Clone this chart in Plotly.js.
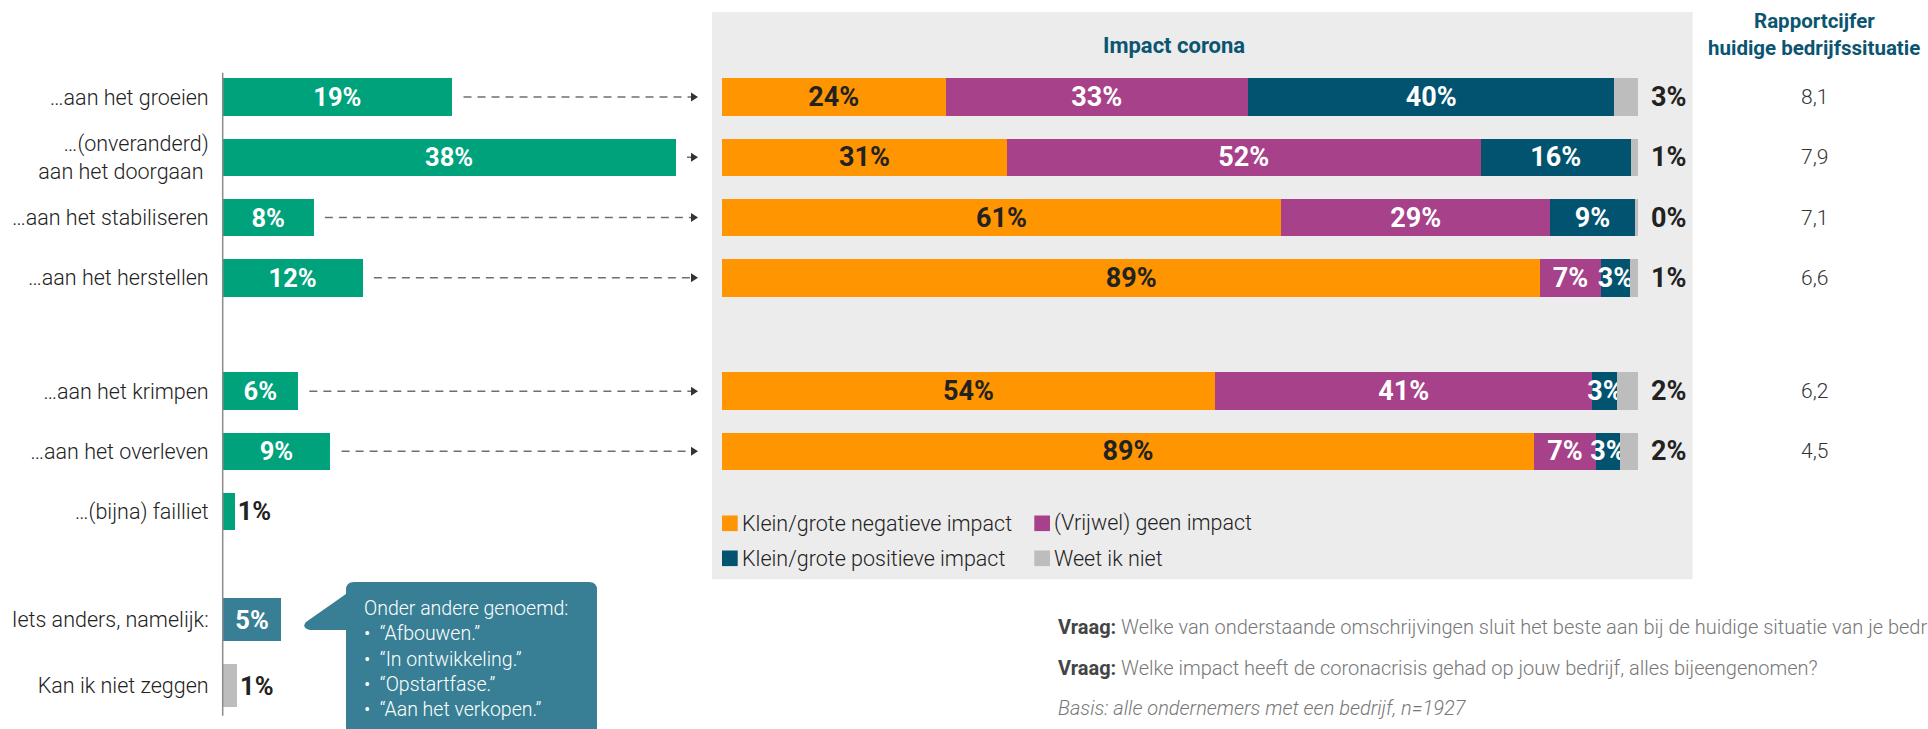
<!DOCTYPE html>
<html>
<head>
<meta charset="utf-8">
<script src="https://cdn.plot.ly/plotly-3.0.1.min.js"></script>
<style>
html,body{margin:0;padding:0;background:#fff;}
#chart{width:1928px;height:729px;}
</style>
</head>
<body>
<div id="chart"></div>
<script>
// ---------- DATA ----------
const situatieGroepA = ['…aan het groeien', '…(onveranderd)<br>aan het doorgaan\u00a0', '…aan het stabiliseren', '…aan het herstellen'];
const situatieGroepB = ['…aan het krimpen', '…aan het overleven', '…(bijna) failliet'];
const situatieGroepC = ['Iets anders, namelijk:', 'Kan ik niet zeggen'];
const aandeelGroepA = [19.2, 37.9, 7.6, 11.7];
const aandeelGroepB = [6.3, 9.0, 1.0];
const aandeelGroepC = [4.9, 1.2];

// impact corona (rows: groeien, doorgaan, stabiliseren, herstellen, krimpen, overleven)
const impactReeksen = ['Klein/grote negatieve impact', '(Vrijwel) geen impact', 'Klein/grote positieve impact', 'Weet ik niet'];
const impactNegatief = [24.4, 31.1, 61.0, 89.3, 53.8, 88.6];
const impactGeen     = [33.0, 51.7, 29.4, 6.6, 41.2, 6.8];
const impactPositief = [40.0, 16.4, 9.2, 3.2, 2.7, 2.6];
const impactWeetNiet = [2.6, 0.8, 0.4, 0.9, 2.3, 2.0];

const rapportcijfer = ['8,1', '7,9', '7,1', '6,6', '6,2', '4,5'];

const andereGenoemd = ['“Afbouwen.”', '“In ontwikkeling.”', '“Opstartfase.”', '“Aan het verkopen.”'];

// ---------- LAYOUT HELPERS ----------
const W = 1928, H = 729;
const px = v => v / W;
const py = v => 1 - v / H;
const grp = {
  A: {top: 66.9, bot: 307.9, n: 4},
  B: {top: 361.2, bot: 541.3, n: 3},
  C: {top: 586.5, bot: 718.5, n: 2}
};
const rowPx = (g, i) => g.top + (i + 0.5) * (g.bot - g.top) / g.n;

const GREEN = '#00a27b', OTHER = '#387f95', GREY = '#bdbdbd';
const serieKleuren = ['#ff9500', '#a6418a', '#02536f', '#bdbdbd'];
const serieTekst = ['#222222', '#ffffff', '#ffffff', '#ffffff'];
const DARK = '#222222';
const FONT = 'Roboto, sans-serif';

// left x axis: 0..40 over 222.7..700.7 px
const LX0 = 222.7, LX1 = 700.7, LRANGE = 40;
const unitPx = (LX1 - LX0) / LRANGE;

const traces = [];

function leftTrace(cats, vals, colors, yax, w) {
  return {
    type: 'bar', orientation: 'h', x: vals, y: cats, xaxis: 'x', yaxis: yax,
    width: w,
    marker: {color: colors, line: {width: 0}},
    texttemplate: '%{x:.0f}%',
    textposition: vals.map(v => v < 3 ? 'outside' : 'inside'),
    insidetextanchor: 'middle', textangle: 0, constraintext: 'none', cliponaxis: false,
    insidetextfont: {family: FONT, size: 25.5, color: '#ffffff', weight: 700},
    outsidetextfont: {family: FONT, size: 25.5, color: DARK, weight: 700},
    hoverinfo: 'skip', showlegend: false
  };
}
traces.push(leftTrace(situatieGroepA, aandeelGroepA, GREEN, 'y', 0.622));
traces.push(leftTrace(situatieGroepB, aandeelGroepB, GREEN, 'y2', 0.624));
traces.push(leftTrace(situatieGroepC, aandeelGroepC, [OTHER, GREY], 'y3', 0.642));

const impactSeries = [impactNegatief, impactGeen, impactPositief, impactWeetNiet];
impactSeries.forEach((vals, s) => {
  const parts = [
    {cats: situatieGroepA, v: vals.slice(0, 4), y: 'y', w: 0.622},
    {cats: situatieGroepB.slice(0, 2), v: vals.slice(4, 6), y: 'y2', w: 0.624}
  ];
  parts.forEach(p => {
    traces.push({
      type: 'bar', orientation: 'h', x: p.v, y: p.cats, xaxis: 'x2', yaxis: p.y,
      width: p.w, name: impactReeksen[s],
      marker: {color: serieKleuren[s], line: {width: 0}},
      texttemplate: '%{x:.0f}%',
      textposition: s === 3 ? 'none' : 'inside',
      insidetextanchor: 'middle', textangle: 0, constraintext: 'none', cliponaxis: false,
      insidetextfont: {family: FONT, size: 27, color: serieTekst[s], weight: 700},
      hoverinfo: 'skip', showlegend: false
    });
  });
});

// ---------- SHAPES ----------
const shapes = [];
// grey panel
shapes.push({type: 'rect', xref: 'paper', yref: 'paper', layer: 'below',
  x0: px(712), x1: px(1692.7), y0: py(579.3), y1: py(12),
  fillcolor: '#ececec', line: {width: 0}});
// left axis line
shapes.push({type: 'line', xref: 'paper', yref: 'paper',
  x0: px(LX0), x1: px(LX0), y0: py(72.7), y1: py(715.7),
  line: {color: '#8c8c8c', width: 1.5}});

// dashed arrows for rows continuing into impact chart
const arrowRows = [];
aandeelGroepA.forEach((v, i) => arrowRows.push({v, yc: rowPx(grp.A, i)}));
aandeelGroepB.slice(0, 2).forEach((v, i) => arrowRows.push({v, yc: rowPx(grp.B, i)}));
const tipX = (698 - LX0) / unitPx, baseX = (691 - LX0) / unitPx;
arrowRows.forEach(r => {
  shapes.push({type: 'line', xref: 'x', yref: 'paper',
    x0: r.v + 0.95, x1: baseX, y0: py(r.yc), y1: py(r.yc),
    line: {color: '#6f6f6f', width: 1.6, dash: '8px,6px'}});
  shapes.push({type: 'path', xref: 'x', yref: 'paper',
    path: `M ${baseX},${py(r.yc - 4.5)} L ${tipX},${py(r.yc)} L ${baseX},${py(r.yc + 4.5)} Z`,
    fillcolor: '#333333', line: {width: 0}});
});

// callout box
const P = (x, y) => `${px(x)},${py(y)}`;
shapes.push({type: 'path', xref: 'paper', yref: 'paper',
  path: `M ${P(346, 745)} L ${P(346, 630)} L ${P(310, 630)} Q ${P(301, 628)} ${P(306, 622)} L ${P(346, 594)} L ${P(346, 590)} Q ${P(346, 582)} ${P(354, 582)} L ${P(589, 582)} Q ${P(597, 582)} ${P(597, 590)} L ${P(597, 745)} Z`,
  fillcolor: OTHER, line: {width: 0}});

// legend squares
const legCol = [722, 1034.3], legRow = [523.3, 558.3];
impactReeksen.forEach((n, i) => {
  const cx = legCol[i % 2], cy = legRow[Math.floor(i / 2)];
  shapes.push({type: 'rect', xref: 'paper', yref: 'paper',
    x0: px(cx), x1: px(cx + 15.7), y0: py(cy + 7.8), y1: py(cy - 7.8),
    fillcolor: serieKleuren[i], line: {width: 0}});
});

// ---------- ANNOTATIONS ----------
const ann = [];
ann.push({xref: 'paper', yref: 'paper', x: px(1173.5), y: py(45.5), xanchor: 'center', yanchor: 'middle',
  text: 'Impact corona', showarrow: false,
  font: {family: FONT, size: 22, color: '#0b5571', weight: 700}});
ann.push({xref: 'paper', yref: 'paper', x: px(1814), y: py(20.5), xanchor: 'center', yanchor: 'middle',
  text: 'Rapportcijfer', showarrow: false,
  font: {family: FONT, size: 20.5, color: '#0b5571', weight: 700}});
ann.push({xref: 'paper', yref: 'paper', x: px(1814), y: py(48), xanchor: 'center', yanchor: 'middle',
  text: 'huidige bedrijfssituatie', showarrow: false,
  font: {family: FONT, size: 20.5, color: '#0b5571', weight: 700}});

rapportcijfer.forEach((t, i) => {
  const yref = i < 4 ? 'y' : 'y2', yi = i < 4 ? i : i - 4;
  ann.push({xref: 'paper', yref: yref, x: px(1814), y: yi, xanchor: 'center', yanchor: 'middle',
    text: t, showarrow: false, font: {family: FONT, size: 21, color: '#333333', weight: 300}});
  ann.push({xref: 'paper', yref: yref, x: px(1649), y: yi, xanchor: 'left', yanchor: 'middle',
    text: Math.round(impactWeetNiet[i]) + '%', showarrow: false,
    font: {family: FONT, size: 27, color: DARK, weight: 700}});
});

impactReeksen.forEach((n, i) => {
  const cx = legCol[i % 2], cy = legRow[Math.floor(i / 2)];
  ann.push({xref: 'paper', yref: 'paper', x: px(cx + 18), y: py(cy), xanchor: 'left', yanchor: 'middle',
    text: n, showarrow: false, font: {family: FONT, size: 21.5, color: DARK, weight: 300}});
});

ann.push({xref: 'paper', yref: 'paper', x: px(362), y: py(659), xanchor: 'left', yanchor: 'middle', align: 'left',
  text: 'Onder andere genoemd:<br>' + andereGenoemd.map(t => '•\u00a0\u00a0' + t).join('<br>'),
  showarrow: false, font: {family: FONT, size: 19.5, color: '#ffffff', weight: 300}});

const vraagY = [626.7, 668.3, 708.3];
const vraagTeksten = [
  '<b style="color:#444">Vraag:</b> Welke van onderstaande omschrijvingen sluit het beste aan bij de huidige situatie van je bedrijf?',
  '<b style="color:#444">Vraag:</b> Welke impact heeft de coronacrisis gehad op jouw bedrijf, alles bijeengenomen?',
  '<i>Basis: alle ondernemers met een bedrijf, n=1927</i>'
];
vraagTeksten.forEach((t, i) => {
  ann.push({xref: 'paper', yref: 'paper', x: px(1056), y: py(vraagY[i]), xanchor: 'left', yanchor: 'middle',
    text: t, showarrow: false, font: {family: FONT, size: 20, color: '#777777', weight: 300}});
});

// ---------- AXES ----------
const yBase = {type: 'category', autorange: 'reversed', showgrid: false, zeroline: false, showline: false,
  ticks: '', anchor: 'x', ticklabelstandoff: 13,
  tickfont: {family: FONT, size: 21.5, color: DARK, weight: 300}};

const layout = {
  width: W, height: H,
  margin: {l: 0, r: 0, t: 0, b: 0, pad: 0},
  paper_bgcolor: '#ffffff', plot_bgcolor: 'rgba(0,0,0,0)',
  font: {family: FONT},
  barmode: 'stack', showlegend: false,
  xaxis: {domain: [px(LX0), px(LX1)], range: [0, LRANGE], visible: false, anchor: 'y', fixedrange: true},
  xaxis2: {domain: [px(722), px(1638.3)], range: [0, 100], visible: false, anchor: 'y', fixedrange: true},
  yaxis: Object.assign({}, yBase, {domain: [py(grp.A.bot), py(grp.A.top)]}),
  yaxis2: Object.assign({}, yBase, {domain: [py(grp.B.bot), py(grp.B.top)]}),
  yaxis3: Object.assign({}, yBase, {domain: [py(grp.C.bot), py(grp.C.top)]}),
  shapes: shapes,
  annotations: ann
};

Plotly.newPlot('chart', traces, layout, {displayModeBar: false, staticPlot: true});
</script>
</body>
</html>
